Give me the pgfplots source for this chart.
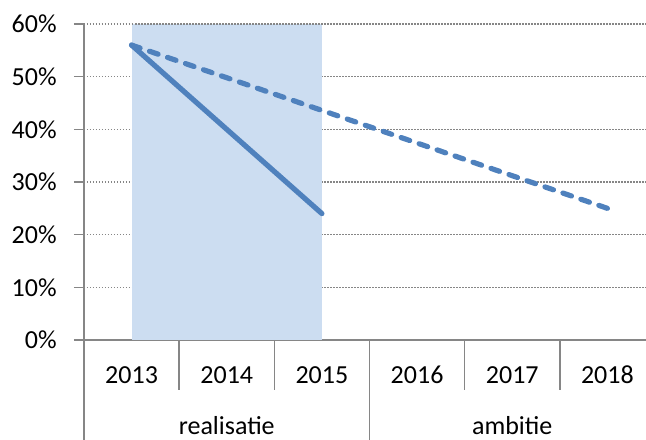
\documentclass[border=0pt]{standalone}
\usepackage{fontspec}
\setmainfont{Carlito}
\usepackage{pgfplots}
\pgfplotsset{compat=1.18}
\definecolor{lineblue}{RGB}{79,129,189}
\definecolor{shade}{RGB}{204,221,241}
\definecolor{axgray}{RGB}{134,134,134}
\newcommand{\lblfont}{\fontsize{13}{15.6}\selectfont}
\begin{document}
\begin{tikzpicture}
\clip (-42pt,-49.5pt) rectangle (281pt,170pt);
\begin{axis}[
  scale only axis, width=285.5pt, height=158pt,
  xmin=-0.5, xmax=5.5, ymin=0, ymax=60,
  axis lines*=left,
  axis line style={axgray, line width=0.75pt},
  clip=false,
  ytick={0,10,...,60},
  yticklabels={0\%,10\%,20\%,30\%,40\%,50\%,60\%},
  xtick={0,...,5},
  xticklabels={2013,2014,2015,2016,2017,2018},
  ymajorgrids,
  grid style={axgray, line width=0.75pt, dash pattern=on 0.75pt off 0.75pt},
  tick align=outside,
  major tick length=5pt,
  y tick style={axgray, line width=0.75pt},
  x tick style={draw=none},
  tick label style={font=\lblfont, text=black},
  yticklabel style={anchor=east, inner sep=0pt, xshift=-8.5pt},
  xticklabel style={anchor=base, inner sep=0pt, yshift=-16.5pt},
]
\addplot[fill=shade, draw=none] coordinates {(0,0) (0,60) (2,60) (2,0)} -- cycle;
\addplot[lineblue, line width=2.6pt, line cap=round] coordinates {(0,56) (1,40) (2,24)};
\addplot[lineblue, line width=2.6pt, line cap=round, dash pattern=on 4.5pt off 5pt] coordinates {(0,56) (1,49.8) (2,43.6) (3,37.4) (4,31.2) (5,25)};
\draw[axgray, line width=0.75pt, dash pattern=on 0.75pt off 0.75pt] (axis cs:-0.5,60) -- (axis cs:5.5,60);
\draw[axgray, line width=0.75pt] (axis cs:0.5,0) -- ([yshift=-25pt]axis cs:0.5,0);
\draw[axgray, line width=0.75pt] (axis cs:1.5,0) -- ([yshift=-25pt]axis cs:1.5,0);
\draw[axgray, line width=0.75pt] (axis cs:3.5,0) -- ([yshift=-25pt]axis cs:3.5,0);
\draw[axgray, line width=0.75pt] (axis cs:4.5,0) -- ([yshift=-25pt]axis cs:4.5,0);
\draw[axgray, line width=0.75pt] (axis cs:-0.5,0) -- ([yshift=-60pt]axis cs:-0.5,0);
\draw[axgray, line width=0.75pt] (axis cs:2.5,0) -- ([yshift=-60pt]axis cs:2.5,0);
\draw[axgray, line width=0.75pt] (axis cs:5.5,0) -- ([yshift=-60pt]axis cs:5.5,0);
\node[anchor=base, inner sep=0pt, font=\lblfont] at ([yshift=-47pt]axis cs:1,0) {realisatie};
\node[anchor=base, inner sep=0pt, font=\lblfont] at ([yshift=-47pt]axis cs:4,0) {ambitie};
\end{axis}
\end{tikzpicture}
\end{document}
